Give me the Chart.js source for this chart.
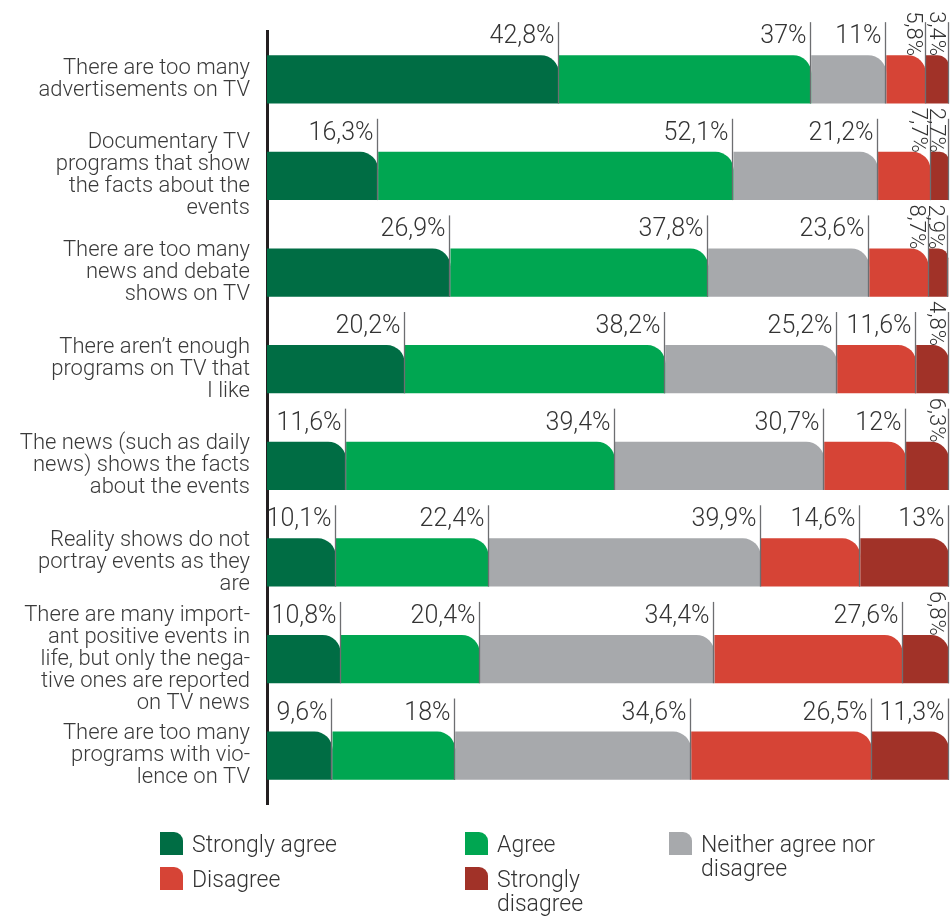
<!DOCTYPE html>
<html>
<head>
<meta charset="utf-8">
<script src="https://cdn.jsdelivr.net/npm/chart.js@4.4.1/dist/chart.umd.min.js"></script>
<style>
  html, body { margin: 0; padding: 0; background: #fff; }
  #wrap { position: relative; width: 951px; height: 916px; }
  #chart { position: absolute; left: 0; top: 0; }
  .lg-item { position: absolute; display: flex; align-items: flex-start; font-family: Roboto, sans-serif; font-weight: 300; font-size: 23px; line-height: 24px; color: #333; }
  .lg-box { width: 23px; height: 23px; border-top-right-radius: 9px; flex: none; margin-right: 9px; }
  .lg-text { padding-top: 1px; }
</style>
</head>
<body>
<div id="wrap">
  <canvas id="chart" width="951" height="916"></canvas>
  <div id="legend"></div>
</div>
<script>
const categories = [
  ["There are too many", "advertisements on TV"],
  ["Documentary TV", "programs that show", "the facts about the", "events"],
  ["There are too many", "news and debate", "shows on TV"],
  ["There aren\u2019t enough", "programs on TV that", "I like"],
  ["The news (such as daily", "news) shows the facts", "about the events"],
  ["Reality shows do not", "portray events as they", "are"],
  ["There are many import-", "ant positive events in", "life, but only the nega-", "tive ones are reported", "on TV news"],
  ["There are too many", "programs with vio-", "lence on TV"]
];
const seriesNames = ["Strongly agree", "Agree", "Neither agree nor disagree", "Disagree", "Strongly disagree"];
const stronglyAgree    = [42.8, 16.3, 26.9, 20.2, 11.6, 10.1, 10.8, 9.6];
const agree            = [37, 52.1, 37.8, 38.2, 39.4, 22.4, 20.4, 18];
const neither          = [11, 21.2, 23.6, 25.2, 30.7, 39.9, 34.4, 34.6];
const disagree         = [5.8, 7.7, 8.7, 11.6, 12, 14.6, 27.6, 26.5];
const stronglyDisagree = [3.4, 2.7, 2.9, 4.8, 6.3, 13, 6.8, 11.3];
const seriesColors = ["#006d44", "#00a651", "#a7a9ac", "#d64436", "#a13228"];

const seriesValues = [stronglyAgree, agree, neither, disagree, stronglyDisagree];
const datasets = seriesValues.map((vals, i) => ({
  label: seriesNames[i],
  data: vals,
  backgroundColor: seriesColors[i],
  borderWidth: 0,
  borderRadius: { topRight: 18, topLeft: 0, bottomLeft: 0, bottomRight: 0 },
  borderSkipped: false,
  barPercentage: 0.5,
  categoryPercentage: 1.0
}));

function fmt(v) { return String(v).replace('.', ',') + '%'; }

const valueLabels = {
  id: 'valueLabels',
  afterDatasetsDraw(chart) {
    const ctx = chart.ctx;
    ctx.save();
    chart.data.datasets.forEach((ds, i) => {
      const meta = chart.getDatasetMeta(i);
      meta.data.forEach((el, j) => {
        const p = el.getProps(['x', 'y', 'base', 'height'], true);
        const top = p.y - p.height / 2;
        const bottom = p.y + p.height / 2;
        const xe = Math.round(p.x) - 0.5;
        ctx.strokeStyle = '#6d6e71';
        ctx.lineWidth = 1.3;
        ctx.beginPath();
        ctx.moveTo(xe, top - 33);
        ctx.lineTo(xe, bottom);
        ctx.stroke();
        const v = ds.data[j];
        ctx.fillStyle = '#333333';
        if (v < 9) {
          ctx.save();
          ctx.translate(xe - 2, top - 44);
          ctx.rotate(Math.PI / 2);
          ctx.font = '300 22px Roboto';
          ctx.textAlign = 'left';
          ctx.textBaseline = 'top';
          ctx.fillText(fmt(v), 0, 0);
          ctx.restore();
        } else {
          ctx.font = '300 25px Roboto';
          ctx.textAlign = 'right';
          ctx.textBaseline = 'alphabetic';
          ctx.fillText(fmt(v), xe - 4, top - 12);
        }
      });
    });
    ctx.restore();
  }
};

const chart = new Chart(document.getElementById('chart'), {
  type: 'bar',
  data: { labels: categories, datasets },
  options: {
    indexAxis: 'y',
    responsive: false,
    animation: false,
    layout: { padding: { top: 31, right: 2, bottom: 112, left: 0 } },
    plugins: { legend: { display: false }, tooltip: { enabled: false } },
    scales: {
      x: { stacked: true, min: 0, max: 100, display: false },
      y: {
        stacked: true,
        grid: { display: false, drawTicks: false },
        border: { display: true, color: '#231f20', width: 3 },
        ticks: {
          autoSkip: false,
          padding: 17,
          color: '#3a3a3a',
          font: { family: 'Roboto', weight: '300', size: 22, lineHeight: 1.0 }
        },
        afterFit(scale) {
          scale.width = 267;
          scale.paddingTop = 0;
          scale.paddingBottom = 0;
        }
      }
    }
  },
  plugins: [valueLabels]
});

// HTML legend built from datasets
const legendPos = [
  { left: 160, top: 832, w: 250 },
  { left: 465, top: 832, w: 170 },
  { left: 669, top: 832, w: 250 },
  { left: 160, top: 867, w: 250 },
  { left: 465, top: 867, w: 120 }
];
const legendEl = document.getElementById('legend');
chart.data.datasets.forEach((ds, i) => {
  const pos = legendPos[i];
  const item = document.createElement('div');
  item.className = 'lg-item';
  item.style.left = pos.left + 'px';
  item.style.top = pos.top + 'px';
  const box = document.createElement('div');
  box.className = 'lg-box';
  box.style.background = ds.backgroundColor;
  const txt = document.createElement('div');
  txt.className = 'lg-text';
  txt.style.maxWidth = pos.w + 'px';
  txt.textContent = ds.label;
  item.appendChild(box);
  item.appendChild(txt);
  legendEl.appendChild(item);
});
</script>
</body>
</html>
